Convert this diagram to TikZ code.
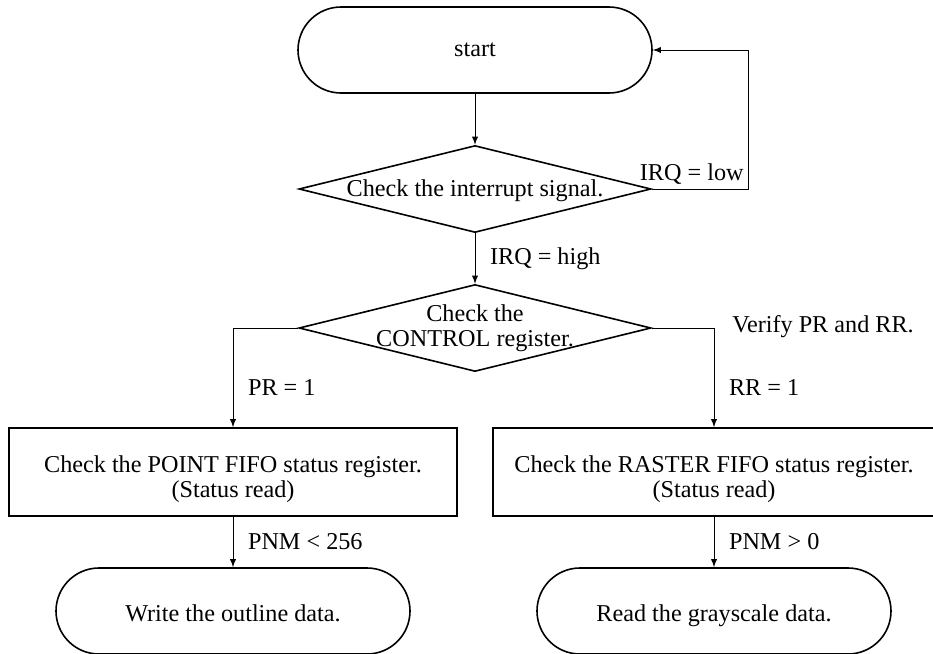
\documentclass[tikz,border=0pt]{standalone}
\usepackage{fontspec}
\setmainfont{Liberation Serif}
\usetikzlibrary{calc}
\usetikzlibrary{shapes.geometric}

\begin{document}
\begin{tikzpicture}[x=0.5pt, y=-0.5pt, font=\fontsize{12.1}{12.5}\selectfont,
                    terminal/.style={draw, thick, rounded corners=21.5pt, minimum width=177pt, minimum height=43pt, align=center},
                    decision/.style={draw, thick, diamond, inner sep=0pt, minimum width=176pt, minimum height=43.5pt},
                    process/.style={draw, thick, rectangle, minimum height=44pt},
                    flow/.style={->, >=latex}]
                \useasboundingbox (0,0) rectangle (933,654);
                \def \loopx {748}
                % top part
                \node[terminal] (start) at (475,50) {start};
                \node[decision, label={[align=center, yshift=-1pt]center:Check the interrupt signal.}] (chkirq) at (475,189) {};
                \node[decision, label={[align=center]center:Check the\\CONTROL register.}] (chkctl) at (475,328) {};
                \coordinate (back) at (\loopx,189);
                \draw[flow] (start) -- (chkirq);
                \draw[flow] (chkirq.east) -- (back) node[above left, inner sep=2pt] {IRQ = low} |- (start.east);
                \draw[flow] (chkirq) -- (chkctl) node[midway, right, xshift=4pt] {IRQ = high};
                \node (verify) at (823,327) {Verify PR and RR.};
                % two branches
                \foreach \side/\x/\w/\fifo/\dir/\cond/\job/\tx in {point/233/448/POINT/west/PR = 1/PNM < 256/Write the outline data.,raster/714/442/RASTER/east/RR = 1/PNM > 0/Read the grayscale data.}
                {
                    \node[process, minimum width=\w*0.5pt, label={[align=center, yshift=-3.5pt]center:Check the \fifo\ FIFO status register.\\(Status read)}] (\side box) at (\x,472) {};
                    \node[terminal, label={[yshift=-3pt, text height=0.7em, text depth=0.25em]center:\tx}] (\side end) at (\x,611) {};
                    \draw[flow] (chkctl.\dir) -| (\side box.north) node[pos=0.8, right, xshift=4pt] {\cond};
                    \draw[flow] (\side box) -- (\side end) node[midway, right, xshift=4pt] {\job};
                }
            \end{tikzpicture}
\end{document}
